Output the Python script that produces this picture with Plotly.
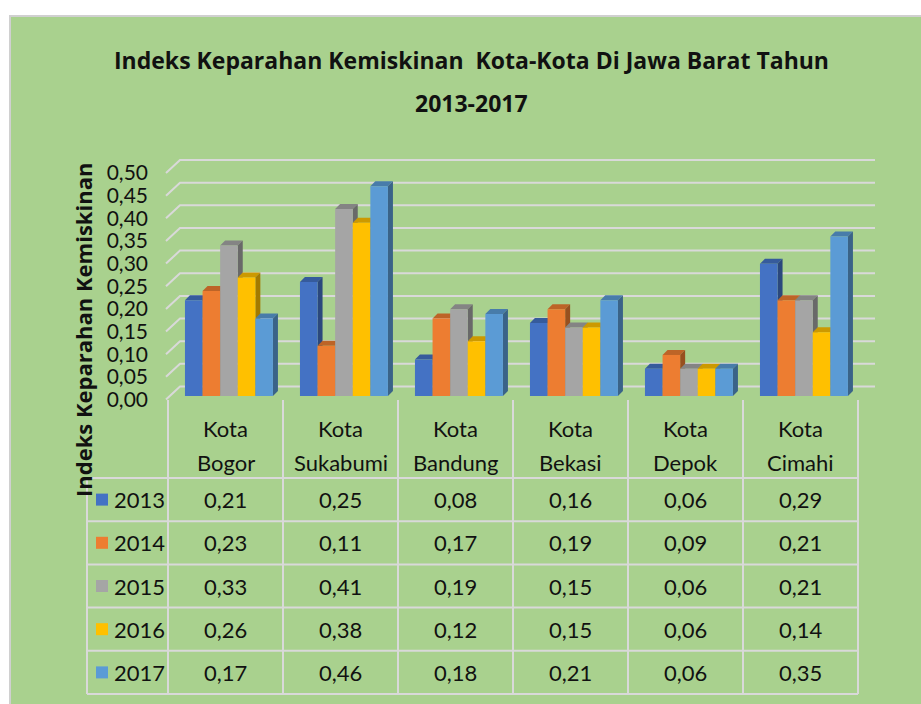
import plotly.graph_objects as go

# ---------------- data ----------------
cities = ["Kota Bogor", "Kota Sukabumi", "Kota Bandung", "Kota Bekasi", "Kota Depok", "Kota Cimahi"]
years = ["2013", "2014", "2015", "2016", "2017"]
v2013 = [0.21, 0.25, 0.08, 0.16, 0.06, 0.29]
v2014 = [0.23, 0.11, 0.17, 0.19, 0.09, 0.21]
v2015 = [0.33, 0.41, 0.19, 0.15, 0.06, 0.21]
v2016 = [0.26, 0.38, 0.12, 0.15, 0.06, 0.14]
v2017 = [0.17, 0.46, 0.18, 0.21, 0.06, 0.35]
series = [v2013, v2014, v2015, v2016, v2017]
tick_vals = [0.00, 0.05, 0.10, 0.15, 0.20, 0.25, 0.30, 0.35, 0.40, 0.45, 0.50]
tick_text = ["0,00", "0,05", "0,10", "0,15", "0,20", "0,25", "0,30", "0,35", "0,40", "0,45", "0,50"]
title_lines = ["Indeks Keparahan Kemiskinan  Kota-Kota Di Jawa Barat Tahun", "2013-2017"]
y_title = "Indeks Keparahan Kemiskinan"

# ---------------- style ----------------
colors = ["#4472C4", "#ED7D31", "#A5A5A5", "#FFC000", "#5B9BD5"]
GREEN = "#A9D18E"
GRID = "#D9D9D9"
TXT = "#111111"
FONT = "Lato"
BOLD_FONT = "Open Sans"
W, H = 921, 704

def shade(hexc, f):
    hexc = hexc.lstrip("#")
    r, g, b = (int(hexc[i:i + 2], 16) for i in (0, 2, 4))
    return "rgb(%d,%d,%d)" % (int(r * f), int(g * f), int(b * f))

# geometry helpers (layout only)
COLW = 115.0           # pixel width of a category column
X0PX = 168.0           # pixel of left edge of first category column
def xval(p):
    return (p - X0PX) / COLW - 0.5

BAR0PX, BARU = 396.0, 456.0     # bars: pixel of value 0, pixels per unit
def yval(p):
    return (BAR0PX - p) / BARU

WALL0PX, WALLU = 399.5, 453.0   # walls/ticks: pixel of value 0, pixels per unit
def wval(p):
    return (WALL0PX - p) / WALLU

ROWH = 43.2
TAB_TOP = 400.0
HEAD_H = 78.0 / ROWH
def rval(p):
    return (p - TAB_TOP) / ROWH

PLOT_TOP, PLOT_BOT = 140.0, 410.0

bar_w = 0.153
group_shift = 0.03
ddx, ddy = 5 / COLW, 5 / BARU          # bar depth
gdx, gdy = 14 / COLW, 13 / WALLU       # wall depth

fig = go.Figure()
shapes = []

# green chart area
shapes.append(dict(type="rect", xref="paper", yref="paper", x0=10 / W, x1=1.05, y0=-0.05, y1=1 - 16 / H,
                   fillcolor=GREEN, line=dict(color="#D0D0D0", width=2), layer="below"))

# gridlines (side wall + back wall)
x_front_left = xval(166)
x_back_right = xval(875)
for v in tick_vals:
    shapes.append(dict(type="path", xref="x", yref="y3",
                       path=f"M {x_front_left} {v} L {x_front_left + gdx} {v + gdy} L {x_back_right} {v + gdy}",
                       line=dict(color=GRID, width=2), layer="below"))

# 3D side/top faces of the bars
n = len(series)
for i in range(len(cities)):
    for k in range(n):
        v = series[k][i]
        xl = i - n * bar_w / 2 + group_shift + k * bar_w
        xr = xl + bar_w
        shapes.append(dict(type="path", xref="x", yref="y",
                           path=f"M {xl} {v} L {xl + ddx} {v + ddy} L {xr + ddx} {v + ddy} L {xr} {v} Z",
                           fillcolor=shade(colors[k], 0.80), line=dict(width=0), layer="below"))
        shapes.append(dict(type="path", xref="x", yref="y",
                           path=f"M {xr} 0 L {xr + ddx} {ddy} L {xr + ddx} {v + ddy} L {xr} {v} Z",
                           fillcolor=shade(colors[k], 0.64), line=dict(width=0), layer="below"))

# bar front faces
for k in range(n):
    fig.add_trace(go.Bar(
        x=list(range(len(cities))), y=series[k], name=years[k],
        width=bar_w, offset=-n * bar_w / 2 + group_shift + k * bar_w,
        marker=dict(color=colors[k], line=dict(width=0)),
        xaxis="x", yaxis="y", showlegend=False, hoverinfo="skip"))

# ---------------- data table ----------------
x_tab_left = xval(87)
x_tab_right = len(cities) - 0.5
n_rows = len(years)
for r in range(n_rows + 1):
    yy = HEAD_H + r
    shapes.append(dict(type="line", xref="x", yref="y2", x0=x_tab_left, x1=x_tab_right, y0=yy, y1=yy,
                       line=dict(color=GRID, width=2), layer="above"))
for c in range(len(cities) + 1):
    xx = c - 0.5
    shapes.append(dict(type="line", xref="x", yref="y2", x0=xx, x1=xx, y0=0, y1=HEAD_H + n_rows,
                       line=dict(color=GRID, width=2), layer="above"))
shapes.append(dict(type="line", xref="x", yref="y2", x0=x_tab_left, x1=x_tab_left, y0=HEAD_H, y1=HEAD_H + n_rows,
                   line=dict(color=GRID, width=2), layer="above"))

annotations = []
cell_font = dict(family=FONT, size=22, color=TXT)
for i, c in enumerate(cities):
    first, second = c.split(" ", 1)
    annotations.append(dict(x=i, y=rval(428), xref="x", yref="y2", text=first, showarrow=False, font=cell_font))
    annotations.append(dict(x=i, y=rval(462), xref="x", yref="y2", text=second, showarrow=False, font=cell_font))
for k in range(n_rows):
    yc = HEAD_H + k + 0.5
    for i in range(len(cities)):
        annotations.append(dict(x=i, y=yc, xref="x", yref="y2",
                                text=f"{series[k][i]:.2f}".replace(".", ","), showarrow=False, font=cell_font))
    annotations.append(dict(x=xval(112), y=yc, xref="x", yref="y2", text=years[k], showarrow=False,
                            xanchor="left", font=cell_font))

# legend keys inside the table
fig.add_trace(go.Scatter(
    x=[xval(102)] * n_rows, y=[HEAD_H + k + 0.5 for k in range(n_rows)],
    mode="markers", marker=dict(symbol="square", size=12, color=colors, line=dict(width=0)),
    xaxis="x", yaxis="y2", showlegend=False, hoverinfo="skip"))

# y axis title
annotations.append(dict(x=83 / W, y=1 - 330 / H, xref="paper", yref="paper", text=y_title, textangle=-90,
                        xanchor="center", yanchor="middle", showarrow=False,
                        font=dict(family=BOLD_FONT, size=22, color=TXT, weight="bold")))
# chart title (two lines)
for txt, py in zip(title_lines, [60, 103]):
    annotations.append(dict(x=471 / W, y=1 - py / H, xref="paper", yref="paper", text=txt, showarrow=False,
                            xanchor="center", yanchor="middle",
                            font=dict(family=BOLD_FONT, size=23, color=TXT, weight="bold")))

fig.update_layout(
    width=W, height=H,
    margin=dict(l=0, r=0, t=0, b=0),
    paper_bgcolor="white", plot_bgcolor="rgba(0,0,0,0)",
    barmode="overlay",
    xaxis=dict(range=[xval(0), xval(W)], domain=[0, 1], showgrid=False, zeroline=False,
               showticklabels=False, showline=False, anchor="y", fixedrange=True),
    yaxis=dict(range=[yval(PLOT_BOT), yval(PLOT_TOP)], domain=[1 - PLOT_BOT / H, 1 - PLOT_TOP / H],
               anchor="x", visible=False),
    yaxis3=dict(range=[wval(PLOT_BOT), wval(PLOT_TOP)], overlaying="y", anchor="free",
                position=148 / W, side="left", tickvals=tick_vals, ticktext=tick_text, ticks="",
                showgrid=False, zeroline=False, showline=False,
                tickfont=dict(family=FONT, size=21, color=TXT)),
    yaxis2=dict(range=[rval(702), rval(TAB_TOP)], domain=[1 - 702 / H, 1 - TAB_TOP / H], anchor="x",
                visible=False),
    shapes=shapes,
    annotations=annotations,
    font=dict(family=FONT),
)

# invisible trace so the wall axis (y3) is drawn
fig.add_trace(go.Scatter(x=[0], y=[0], mode="markers", marker=dict(opacity=0), xaxis="x", yaxis="y3",
                         showlegend=False, hoverinfo="skip"))

fig.write_html("out.html", config={"displayModeBar": False},
               post_script="document.body.style.margin='0px';")
